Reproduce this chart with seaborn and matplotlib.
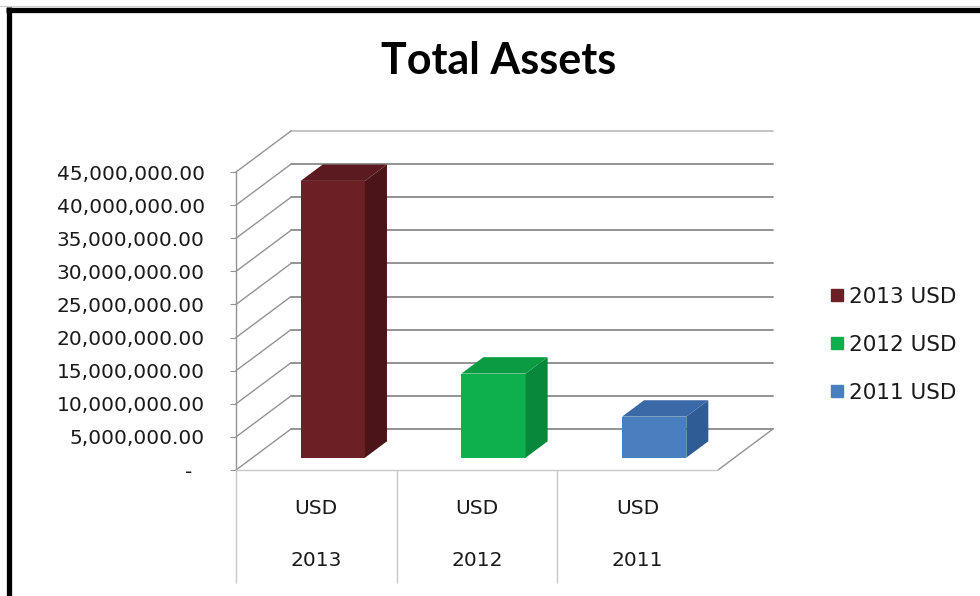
import numpy as np
import pandas as pd
import matplotlib
matplotlib.use("Agg")
import matplotlib.pyplot as plt
import seaborn as sns
from matplotlib.lines import Line2D
from matplotlib.patches import Polygon
from matplotlib.transforms import IdentityTransform, offset_copy, blended_transform_factory

# ---- data ----
years = ["2013", "2012", "2011"]
currency = "USD"
total_assets = [41.8e6, 12.7e6, 6.2e6]
y_ticks = [0, 5e6, 10e6, 15e6, 20e6, 25e6, 30e6, 35e6, 40e6, 45e6]
front_colors = ["#6C1F25", "#0DB04D", "#4A7FBF"]
side_colors = ["#4A1418", "#07883A", "#2F5C94"]
top_colors = ["#5B1A1F", "#0B9C43", "#3B69A8"]

# ---- geometry of the pseudo-3D box (pixels) ----
W, H, DPI = 980, 596, 100
DEPTH_X, DEPTH_Y = 55.0, 41.0     # from front plane to back wall
BAR_GAP, BAR_DEPTH = 0.3, 0.4     # fractions of the full depth
GRID = "#939393"
LIGHT = "#c8c8c8"

sns.set_theme(style="white")
plt.rcParams["font.family"] = ["DejaVu Sans"]

fig = plt.figure(figsize=(W / DPI, H / DPI), dpi=DPI)
fig.patch.set_facecolor("white")
ax = fig.add_axes([236 / W, (H - 470) / H, (718 - 236) / W, (470 - 172) / H])
ax.set_facecolor("none")

df = pd.DataFrame({"year": years, "assets": total_assets})
sns.barplot(data=df, x="year", y="assets", hue="year", palette=front_colors,
            width=0.4, saturation=1, legend=False, ax=ax, zorder=3)
ax.set_xlim(-0.5, 2.5)
ax.set_ylim(0, 45e6)
ax.set_xlabel("")
ax.set_ylabel("")

to_px = ax.transData.transform


def line_px(p0, p1, **kw):
    ax.add_line(Line2D([p0[0], p1[0]], [p0[1], p1[1]], transform=IdentityTransform(),
                       clip_on=False, **kw))


# back wall gridlines and the side-wall diagonals
for v in y_ticks:
    fl = to_px((-0.5, v))
    fr = to_px((2.5, v))
    bl = (fl[0] + DEPTH_X, fl[1] + DEPTH_Y)
    br = (fr[0] + DEPTH_X, fr[1] + DEPTH_Y)
    col = "#c4c4c4" if v == y_ticks[-1] else GRID
    line_px(bl, br, color=col, lw=1.4, zorder=0.5)
    line_px(fl, bl, color=GRID, lw=1.0, zorder=0.5)

# right edge of the floor
f0 = to_px((2.5, 0))
line_px(f0, (f0[0] + DEPTH_X, f0[1] + DEPTH_Y), color=GRID, lw=1.0, zorder=0.5)

# bars: shift seaborn's front faces into the box and add side/top faces
gx, gy = BAR_GAP * DEPTH_X, BAR_GAP * DEPTH_Y
dx, dy = BAR_DEPTH * DEPTH_X, BAR_DEPTH * DEPTH_Y
shift = offset_copy(ax.transData, fig=fig, x=gx, y=gy, units="dots")
for i, patch in enumerate(ax.patches):
    patch.set_transform(shift)
    patch.set_linewidth(0)
    patch.set_clip_on(False)
    x0, x1 = patch.get_x(), patch.get_x() + patch.get_width()
    h = patch.get_height()
    (ax0, ay0), (ax1, ay1) = to_px([(x0, 0), (x1, h)])
    ax0, ax1, ay0, ay1 = ax0 + gx, ax1 + gx, ay0 + gy, ay1 + gy
    side = Polygon([(ax1, ay0), (ax1, ay1), (ax1 + dx, ay1 + dy), (ax1 + dx, ay0 + dy)],
                   closed=True, transform=IdentityTransform(), facecolor=side_colors[i],
                   edgecolor="none", zorder=3, clip_on=False)
    top = Polygon([(ax0, ay1), (ax1, ay1), (ax1 + dx, ay1 + dy), (ax0 + dx, ay1 + dy)],
                  closed=True, transform=IdentityTransform(), facecolor=top_colors[i],
                  edgecolor="none", zorder=3, clip_on=False)
    ax.add_patch(side)
    ax.add_patch(top)

# spines / front axis
for s in ["top", "right"]:
    ax.spines[s].set_visible(False)
ax.spines["left"].set_color(GRID)
ax.spines["left"].set_linewidth(1.0)
ax.spines["bottom"].set_color(LIGHT)
ax.spines["bottom"].set_linewidth(1.0)

ax.set_yticks(y_ticks)
ax.set_yticklabels(["-  " if v == 0 else f"{v:,.2f}" for v in y_ticks])
ax.tick_params(axis="y", left=True, length=4.5, width=0.8, color=GRID, pad=18,
               labelsize=14.5, labelcolor="#1a1a1a")

ax.set_xticks([0, 1, 2])
ax.set_xticklabels([currency] * len(years))
ax.tick_params(axis="x", bottom=False, length=0, pad=21, labelsize=14.5, labelcolor="#1a1a1a")

sec = ax.secondary_xaxis("bottom")
sec.set_xticks([0, 1, 2])
sec.set_xticklabels(years)
sec.tick_params(length=0, pad=58, labelsize=14.5, labelcolor="#1a1a1a")
sec.spines["bottom"].set_visible(False)

# category separators below the floor
sep_tr = blended_transform_factory(ax.transData, ax.transAxes)
ax.vlines([-0.5, 0.5, 1.5], -113 / 298, 0, transform=sep_tr, colors=LIGHT,
          linewidth=1.0, clip_on=False)

# legend
handles = [Line2D([], [], marker="s", linestyle="none", markersize=8,
                  markerfacecolor=c, markeredgecolor=c) for c in front_colors]
labels = [f"{y} {currency}" for y in years]
fig.legend(handles, labels, loc="upper left", bbox_to_anchor=(831 / W, 1 - 287 / H),
           frameon=False, fontsize=15.5, handlelength=0.55, handletextpad=0.3,
           labelspacing=1.3, borderpad=0, borderaxespad=0, labelcolor="#1a1a1a")

# title
fig.text(499 / W, 1 - 61 / H, "Total Assets", ha="center", va="center", fontsize=31,
         fontweight="bold", family=["Lato", "DejaVu Sans"], color="black")

# outer frame
fig.add_artist(Line2D([0, 1], [1 - 5.5 / H, 1 - 5.5 / H], transform=fig.transFigure,
                      color="#cfcfcf", lw=0.8))
fig.add_artist(Line2D([6 / W, 1], [1 - 9.5 / H, 1 - 9.5 / H], transform=fig.transFigure,
                      color="black", lw=3.8, solid_capstyle="butt"))
fig.add_artist(Line2D([8.5 / W, 8.5 / W], [0, 1 - 7 / H], transform=fig.transFigure,
                      color="black", lw=3.8, solid_capstyle="butt"))

fig.savefig("out.png", dpi=DPI)
